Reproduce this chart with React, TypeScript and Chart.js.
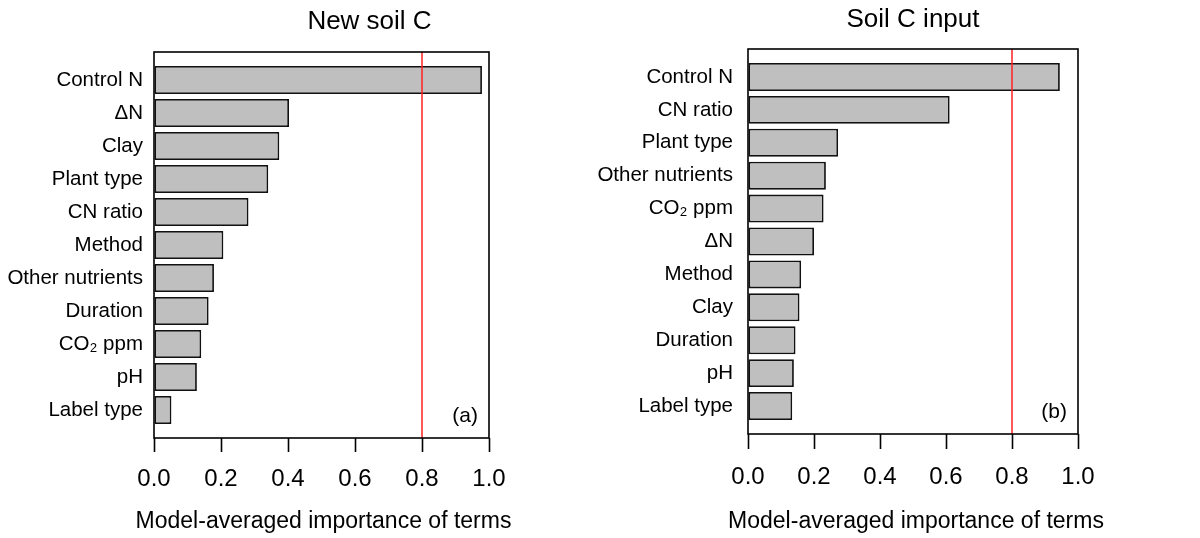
import React, { useEffect, useRef } from 'react';
import { Chart, registerables } from 'chart.js';

Chart.register(...registerables);

// ---------- data ----------
const newSoilLabels = ['Control N', 'ΔN', 'Clay', 'Plant type', 'CN ratio', 'Method', 'Other nutrients', 'Duration', 'CO₂ ppm', 'pH', 'Label type'];
const newSoilValues = [0.979, 0.403, 0.374, 0.341, 0.282, 0.207, 0.179, 0.163, 0.141, 0.128, 0.052];

const inputLabels = ['Control N', 'CN ratio', 'Plant type', 'Other nutrients', 'CO₂ ppm', 'ΔN', 'Method', 'Clay', 'Duration', 'pH', 'Label type'];
const inputValues = [0.945, 0.611, 0.273, 0.236, 0.229, 0.2, 0.161, 0.156, 0.144, 0.139, 0.134];

const xTickValues = [0, 0.2, 0.4, 0.6, 0.8, 1.0];
const threshold = 0.8;
const xTitle = 'Model-averaged importance of terms';

const SANS = '"Liberation Sans", Arial, sans-serif';

const framePlugin = {
  id: 'frame',
  afterDatasetsDraw(chart: any, _args: any, opts: any) {
    const { ctx, chartArea } = chart;
    const { left, right, top, bottom } = chartArea;
    const x = chart.scales.x;
    ctx.save();
    // threshold line
    const px = x.getPixelForValue(opts.threshold);
    ctx.strokeStyle = '#ff2020';
    ctx.lineWidth = 1.5;
    ctx.beginPath();
    ctx.moveTo(px, top);
    ctx.lineTo(px, bottom);
    ctx.stroke();
    // frame
    ctx.strokeStyle = '#000';
    ctx.lineWidth = 1.6;
    ctx.strokeRect(left, top, right - left, bottom - top);
    // panel tag
    ctx.fillStyle = '#000';
    ctx.font = `21px ${SANS}`;
    ctx.textAlign = 'right';
    ctx.textBaseline = 'middle';
    ctx.fillText(opts.tag, right - 11, bottom - 22);
    // panel title
    ctx.font = `26px ${SANS}`;
    ctx.textAlign = 'center';
    ctx.fillText(opts.title, (left + right) / 2 + opts.titleDx, opts.titleY);
    // x axis title (drawn here so it is not squeezed to the plot width)
    ctx.font = `23px ${SANS}`;
    ctx.fillText(opts.xTitle, (left + right) / 2 + opts.xTitleDx, opts.xTitleY);
    ctx.restore();
  },
};

type PanelProps = {
  labels: string[];
  values: number[];
  title: string;
  tag: string;
  width: number;
  left: number;
  yWidth: number;
  padTop: number;
  padRight: number;
  xHeight: number;
  titleDx: number;
  titleY: number;
  xTitleDx: number;
  labelPad: number;
  tickPad: number;
  tickLen: number;
};

function Panel(p: PanelProps) {
  const ref = useRef<HTMLCanvasElement | null>(null);
  useEffect(() => {
    if (!ref.current) return;
    const data = p.values.map((v, i) => ({ x: v, y: i }));
    const chart = new Chart(ref.current, {
      type: 'bar',
      data: {
        datasets: [
          {
            data: data as any,
            backgroundColor: '#bfbfbf',
            borderColor: '#111',
            borderWidth: 1.8,
            borderSkipped: false,
            categoryPercentage: 1,
            barPercentage: 0.85,
          } as any,
        ],
      },
      options: {
        indexAxis: 'y',
        responsive: false,
        animation: false,
        devicePixelRatio: 1,
        layout: { padding: { top: p.padTop, right: p.padRight, bottom: 0, left: 0 } },
        plugins: {
          legend: { display: false },
          tooltip: { enabled: false },
          frame: {
            threshold,
            tag: p.tag,
            title: p.title,
            titleDx: p.titleDx,
            titleY: p.titleY,
            xTitle,
            xTitleDx: p.xTitleDx,
            xTitleY: 522,
          },
        } as any,
        scales: {
          x: {
            type: 'linear',
            min: 0,
            max: 1,
            afterBuildTicks: (s: any) => {
              s.ticks = xTickValues.map((v) => ({ value: v }));
            },
            ticks: {
              callback: (v: any) => Number(v).toFixed(1),
              font: { family: SANS, size: 24 },
              color: '#000',
              padding: p.tickPad,
              maxRotation: 0,
              autoSkip: false,
            },
            grid: {
              display: true,
              drawOnChartArea: false,
              drawTicks: true,
              tickLength: p.tickLen,
              tickColor: '#000',
              tickWidth: 1.6,
              color: '#000',
            },
            border: { display: false },
            title: { display: false },
            afterFit: (s: any) => {
              s.height = p.xHeight;
            },
          },
          y: {
            type: 'linear',
            reverse: true,
            offset: false,
            bounds: 'data',
            min: -0.85,
            max: p.labels.length - 1 + 0.85,
            afterBuildTicks: (s: any) => {
              s.ticks = p.labels.map((_, i) => ({ value: i }));
            },
            ticks: {
              callback: (v: any) => p.labels[v] ?? '',
              font: { family: SANS, size: 20.5 },
              color: '#000',
              padding: p.labelPad,
              autoSkip: false,
            },
            grid: { display: false, drawTicks: false, offset: false },
            border: { display: false },
            afterFit: (s: any) => {
              s.width = p.yWidth;
            },
          },
        },
      } as any,
      plugins: [framePlugin],
    });
    return () => chart.destroy();
  }, []);
  return (
    <canvas
      ref={ref}
      width={p.width}
      height={538}
      style={{ position: 'absolute', left: p.left, top: 0, width: p.width, height: 538 }}
    />
  );
}

export default function App() {
  return (
    <div style={{ position: 'fixed', left: 0, top: 0, width: 1200, height: 538, background: '#fff', overflow: 'hidden' }}>
      <Panel
        labels={newSoilLabels}
        values={newSoilValues}
        title="New soil C"
        tag="(a)"
        width={595}
        left={0}
        yWidth={154}
        padTop={52}
        padRight={106}
        xHeight={100}
        titleDx={48}
        titleY={22}
        xTitleDx={2}
        labelPad={11}
        tickPad={13}
        tickLen={14}
      />
      <Panel
        labels={inputLabels}
        values={inputValues}
        title="Soil C input"
        tag="(b)"
        width={605}
        left={595}
        yWidth={153}
        padTop={49}
        padRight={122}
        xHeight={104}
        titleDx={0}
        titleY={20}
        xTitleDx={3}
        labelPad={15}
        tickPad={14}
        tickLen={15}
      />
    </div>
  );
}
